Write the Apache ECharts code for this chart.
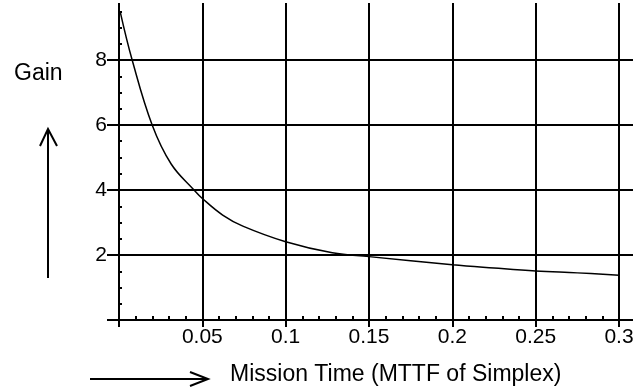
<!DOCTYPE html>
<html>
<head>
<meta charset="utf-8">
<script src="https://cdn.jsdelivr.net/npm/echarts@6/dist/echarts.min.js"></script>
<style>
  html, body { margin: 0; padding: 0; background: #fff; }
  #chart { width: 640px; height: 391px; }
</style>
</head>
<body>
<div id="chart"></div>
<script>
// --- data: gain vs mission time (fraction of simplex MTTF) ---
var missionTime = [0.0007, 0.0079, 0.0199, 0.0313, 0.045, 0.05, 0.0622, 0.0743, 0.1, 0.128, 0.15, 0.2, 0.225, 0.25, 0.275, 0.3];
var gain = [9.49, 8.0, 6.0, 4.8, 4.0, 3.74, 3.23, 2.89, 2.41, 2.07, 1.95, 1.7, 1.6, 1.51, 1.45, 1.38];

var xTickLabels = ['0.05', '0.1', '0.15', '0.2', '0.25', '0.3'];
var yTickLabels = ['2', '4', '6', '8'];

var xMin = 0, xMax = 0.3, xStep = 0.05, xMinorStep = 0.01;
var yMin = 0, yMax = 10, yStep = 2, yMinorStep = 0.5;

(function() {
  var ink = '#000';
  var font = 'Liberation Sans, Arial, sans-serif';

  var points = missionTime.map(function(t, i) { return [t, gain[i]]; });

  var box = { left: 119, right: 21, top: -5, bottom: 71, outerBoundsMode: 'none' };

  var chart = echarts.init(document.getElementById('chart'), null, { renderer: 'canvas' });
  chart.setOption({
    animation: false,
    backgroundColor: '#fff',
    grid: [
      Object.assign({}, box),
      Object.assign({}, box)
    ],
    xAxis: [
      {
        // main axis: grid lines, labels, ticks poking below
        type: 'value', gridIndex: 0, position: 'bottom',
        min: xMin, max: xMax, interval: xStep,
        axisLine: { lineStyle: { color: ink, width: 2 } },
        axisTick: { length: 7, lineStyle: { color: ink, width: 2 } },
        axisLabel: {
          margin: 7, color: ink, fontSize: 21, fontFamily: font,
          formatter: function(v) {
            var s = String(+v.toFixed(2));
            return xTickLabels.indexOf(s) >= 0 ? s : '';
          }
        },
        splitLine: { show: true, lineStyle: { color: ink, width: 2 } }
      },
      {
        // minor ticks, pointing up into the plot
        type: 'value', gridIndex: 1, position: 'bottom',
        min: xMin, max: xMax, interval: xMinorStep,
        axisLine: { show: false },
        axisTick: { inside: true, length: 4, lineStyle: { color: ink, width: 2 } },
        axisLabel: { show: false },
        splitLine: { show: false }
      }
    ],
    yAxis: [
      {
        type: 'value', gridIndex: 0, position: 'left',
        min: yMin, max: yMax, interval: yStep,
        axisLine: { lineStyle: { color: ink, width: 2 } },
        axisTick: { length: 12, lineStyle: { color: ink, width: 2 } },
        axisLabel: {
          margin: 12, color: ink, fontSize: 21, fontFamily: font,
          formatter: function(v) {
            var s = String(v);
            return yTickLabels.indexOf(s) >= 0 ? s : '';
          }
        },
        splitLine: { show: true, lineStyle: { color: ink, width: 2 } }
      },
      {
        // grid lines run a little past the right edge
        type: 'value', gridIndex: 0, position: 'right',
        min: yMin, max: yMax, interval: yStep,
        axisLine: { show: false },
        axisTick: { length: 14, lineStyle: { color: ink, width: 2 } },
        axisLabel: { show: false },
        splitLine: { show: false }
      },
      {
        type: 'value', gridIndex: 1, position: 'left',
        min: yMin, max: yMax, interval: yMinorStep,
        axisLine: { show: false },
        axisTick: { inside: true, length: 3, lineStyle: { color: ink, width: 2 } },
        axisLabel: { show: false },
        splitLine: { show: false }
      }
    ],
    series: [{
      type: 'line',
      xAxisIndex: 0, yAxisIndex: 0,
      data: points,
      smooth: 0.4,
      showSymbol: false,
      lineStyle: { color: ink, width: 1.5 },
      z: 5
    }],
    graphic: [
      { type: 'rect', z: 100, shape: { x: 0, y: 0, width: 640, height: 3 }, style: { fill: '#fff' } },
      { type: 'text', z: 100, style: { text: 'Gain', x: 14, y: 74, fontSize: 23, fontFamily: font, fill: ink, verticalAlign: 'middle' } },
      { type: 'polyline', z: 100, shape: { points: [[48, 278], [48, 129]] }, style: { stroke: ink, lineWidth: 2, fill: null } },
      { type: 'polyline', z: 100, shape: { points: [[40, 146], [48, 129], [57, 146]] }, style: { stroke: ink, lineWidth: 2, fill: null } },
      { type: 'polyline', z: 100, shape: { points: [[90, 379], [208, 379]] }, style: { stroke: ink, lineWidth: 2, fill: null } },
      { type: 'polyline', z: 100, shape: { points: [[190, 372], [208, 379], [190, 386]] }, style: { stroke: ink, lineWidth: 2, fill: null } },
      { type: 'text', z: 100, style: { text: 'Mission Time (MTTF of Simplex)', x: 230, y: 375, fontSize: 23, fontFamily: font, fill: ink, verticalAlign: 'middle' } }
    ]
  });
  window.addEventListener('resize', function() { chart.resize(); });
})();
</script>
</body>
</html>
